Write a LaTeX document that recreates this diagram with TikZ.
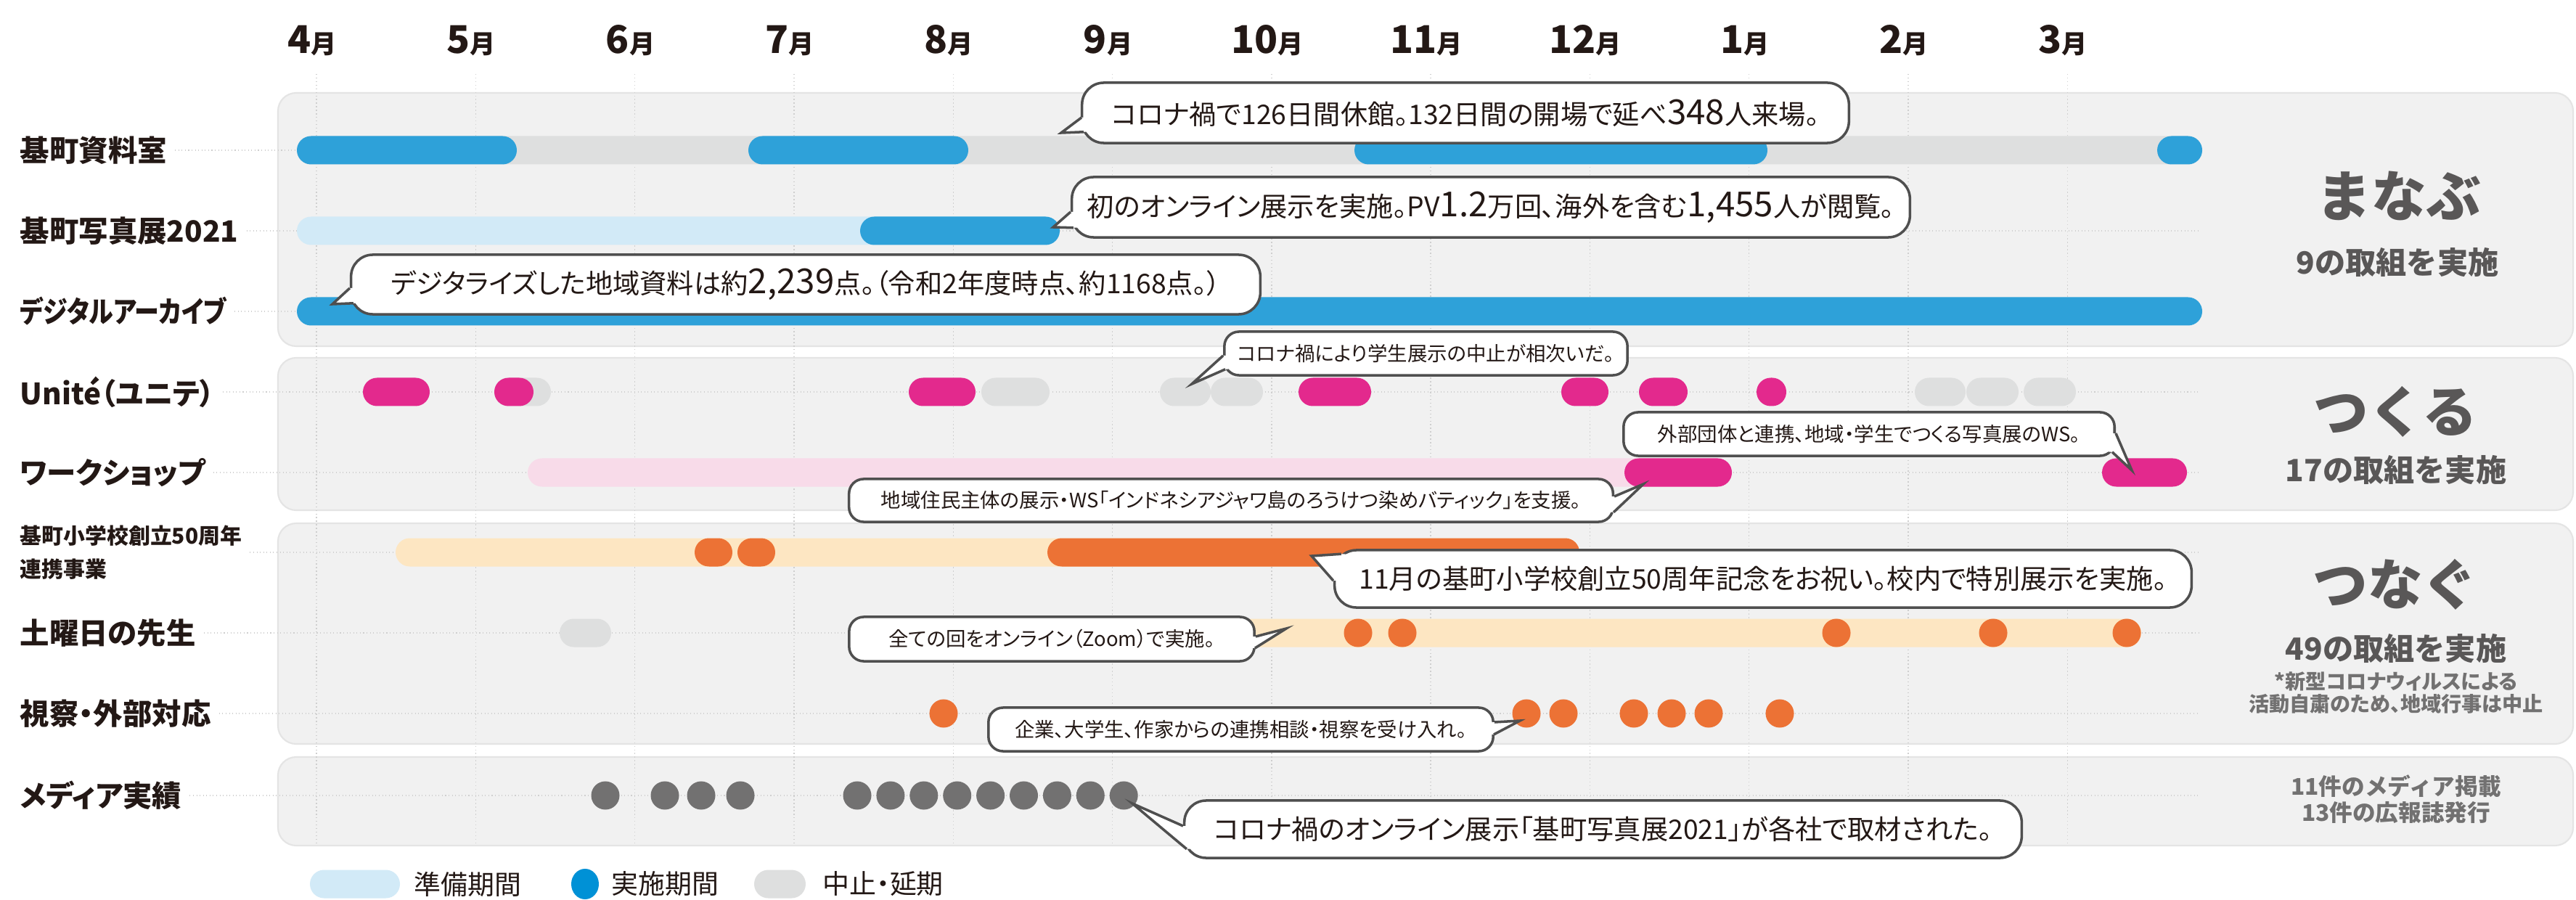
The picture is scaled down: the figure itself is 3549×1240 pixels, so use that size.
\documentclass[tikz,border=0pt]{standalone}
\usepackage{fontspec}
\usepackage{graphicx}
\setmainfont{Noto Sans CJK JP}
\newfontfamily\calljp{Noto Sans CJK JP}[RawFeature=+palt]
\usepackage{tikz}
\usetikzlibrary{calc}
\definecolor{inkdark}{HTML}{231815}
\definecolor{sumgrey}{HTML}{595757}
\definecolor{notegrey}{HTML}{727171}
\definecolor{bandfill}{HTML}{F1F1F1}
\definecolor{bandline}{HTML}{E4E4E4}
\definecolor{gridgrey}{HTML}{CFCFCF}
\definecolor{doblue}{HTML}{2EA1D9}
\definecolor{prepblue}{HTML}{D2EAF7}
\definecolor{stopgrey}{HTML}{DEDFDF}
\definecolor{makepink}{HTML}{E3298D}
\definecolor{prepink}{HTML}{F8DBE9}
\definecolor{linkorange}{HTML}{EC7235}
\definecolor{preorange}{HTML}{FDE6C2}
\definecolor{mediagrey}{HTML}{727171}
\definecolor{calloutline}{HTML}{4F4F4F}
\definecolor{legendblue}{HTML}{0091D6}

% capsule bar: colour, x from, x to, row y
\newcommand{\pill}[4]{\fill[#1, rounded corners=0.195cm] (#2,#4-19.5) rectangle (#3,#4+19.5);}
% round dot: colour, x, row y
\newcommand{\spot}[3]{\fill[#1] (#2,#3) circle[radius=0.195cm];}
\newcommand{\bignum}[1]{{\fontsize{13.5}{13.5}\selectfont #1}}
% callout pointer: node, base a, tip, base b
\newcommand{\calltail}[4]{%
  \fill[white] (#2) -- (#3) -- (#4) -- ($(#4)!4pt!(#1.center)$) -- ($(#2)!4pt!(#1.center)$) -- cycle;
  \draw[tailline] (#2) -- (#3) -- (#4);
}

\begin{document}
\begin{tikzpicture}[x=0.01cm, y=-0.01cm,
  band/.style={fill=bandfill, draw=bandline, line width=0.6pt, rounded corners=0.25cm},
  gridline/.style={gridgrey, line width=0.4pt, densely dotted},
  rowline/.style={gridgrey, line width=0.3pt, densely dotted},
  monthlabel/.style={inkdark, font=\bfseries, inner sep=0pt},
  rowlabel/.style={inkdark, anchor=west, inner sep=0pt, font=\calljp\fontsize{11.5}{11.5}\selectfont\bfseries},
  schoollabel/.style={inkdark, anchor=west, inner sep=0pt, align=left, font=\calljp\fontsize{8.5}{13}\selectfont\bfseries},
  callbig/.style={fill=white, draw=calloutline, line width=1pt, rounded corners=0.3cm, inner sep=0pt, text=inkdark, font=\calljp\fontsize{10.6}{10.6}\selectfont},
  callsmall/.style={fill=white, draw=calloutline, line width=1pt, rounded corners=0.2cm, inner sep=0pt, text=inkdark, font=\calljp\fontsize{7.8}{7.8}\selectfont},
  tailline/.style={calloutline, line width=1pt, line join=miter},
  sumbig/.style={sumgrey, font=\fontsize{21.5}{21.5}\selectfont\bfseries},
  sumsub/.style={sumgrey, font=\fontsize{12}{12}\selectfont\bfseries},
  sumnote/.style={notegrey, align=center, font=\calljp\fontsize{8}{8.8}\selectfont\bfseries},
  summedia/.style={notegrey, align=center, font=\fontsize{9}{10.2}\selectfont\bfseries},
  legendtext/.style={inkdark, anchor=west, inner sep=0pt, font=\calljp\fontsize{10.5}{10.5}\selectfont}]

  \useasboundingbox (0,0) rectangle (3549,1240);
  \clip (0,0) rectangle (3549,1240);
  \fill[white] (0,0) rectangle (3549,1240);

  % Section bands
  \foreach \top/\bot in {128/477, 493/703, 721/1025, 1043/1165}
    {\path[band] (383,\top) rectangle (3545,\bot);}

  % Month grid and labels
  \foreach \m [count=\k from 0] in {4,5,...,12,1,2,3} {
    \draw[gridline] ({436+219.3*\k},102) -- ({436+219.3*\k},1165);
    \node[monthlabel] (mon\m) at ({430+219.3*\k},56)
      {{\fontsize{15}{15}\selectfont\m}{\fontsize{10}{10}\selectfont 月}};
  }

  % Row labels
  \node[rowlabel] (lblA) at (27,207) {基町資料室};
  \node[rowlabel] (lblB) at (27,318) {基町写真展2021};
  \node[rowlabel] (lblC) at (27,429) {\scalebox{0.84}[1]{デジタルアーカイブ}};
  \node[rowlabel] (lblD) at (27,540) {Unité（ユニテ）};
  \node[rowlabel] (lblE) at (27,651) {ワークショップ};
  \node[schoollabel] (lblF) at (27,761) {基町小学校創立50周年\\連携事業};
  \node[rowlabel] (lblG) at (27,872) {土曜日の先生};
  \node[rowlabel] (lblH) at (27,983) {視察・外部対応};
  \node[rowlabel] (lblI) at (27,1096) {メディア実績};

  % Faint row guides
  \coordinate (lineend) at (3030,0);
  \foreach \r in {lblA,lblB,lblC,lblD,lblE,lblF,lblG,lblH,lblI}
    {\draw[rowline] ([xshift=3pt]\r.east) -- (\r.east -| lineend);}

  % Bars: 基町資料室
  \pill{stopgrey}{409}{3034}{207}
  \foreach \a/\b in {409/712, 1031/1334, 1866/2435, 2972/3034}
    {\pill{doblue}{\a}{\b}{207}}
  % 基町写真展2021
  \pill{prepblue}{409}{1460}{318}
  \pill{doblue}{1185}{1460}{318}
  % デジタルアーカイブ
  \pill{doblue}{409}{3034}{429}
  % Unite
  \foreach \a/\b in {681/759, 1352/1446, 1598/1668, 1668/1740, 2638/2708, 2709/2781, 2788/2860}
    {\pill{stopgrey}{\a}{\b}{540}}
  \foreach \a/\b in {500/592, 681/735, 1252/1344, 1789/1889, 2151/2216, 2258/2325, 2420/2461}
    {\pill{makepink}{\a}{\b}{540}}
  % ワークショップ
  \pill{prepink}{727}{2386}{651}
  \pill{makepink}{2238}{2386}{651}
  \pill{makepink}{2896}{3013}{651}
  % 小学校50周年
  \pill{preorange}{545}{2176}{761}
  \pill{linkorange}{957}{1009}{761}
  \pill{linkorange}{1016}{1068}{761}
  \pill{linkorange}{1443}{2176}{761}
  % 土曜日の先生
  \pill{stopgrey}{771}{842}{872}
  \pill{preorange}{1690}{2950}{872}
  \foreach \x in {1871, 1932, 2530, 2746, 2930}
    {\spot{linkorange}{\x}{872}}
  % 視察・外部対応
  \foreach \x in {1300, 2103, 2154, 2251, 2303, 2354, 2452}
    {\spot{linkorange}{\x}{983}}
  % メディア実績
  \foreach \x in {834, 916, 966, 1020}
    {\spot{mediagrey}{\x}{1096}}
  \foreach \k in {0,...,8}
    {\spot{mediagrey}{1181+45.9*\k}{1096}}

  % Callouts
  \node[callbig, minimum width=10.56cm, minimum height=0.83cm] (coronaA) at (2019,155.5)
    {コロナ禍で126日間休館。132日間の開場で延べ\bignum{348}人来場。};
  \coordinate (tipA) at (1462,183);
  \coordinate (aA) at ($(coronaA.west)+(1,6.5)$);
  \coordinate (bA) at ($(coronaA.south west)+(4,-17)$);
  \calltail{coronaA}{aA}{tipA}{bA}

  \node[callbig, minimum width=11.54cm, minimum height=0.83cm] (onlineB) at (2054,285.5)
    {初のオンライン展示を実施。PV\bignum{1.2}万回、海外を含む\bignum{1,455}人が閲覧。};
  \coordinate (tipB) at (1451,313);
  \coordinate (aB) at ($(onlineB.west)+(0,6.5)$);
  \coordinate (bB) at ($(onlineB.south west)+(4,-15)$);
  \calltail{onlineB}{aB}{tipB}{bB}

  \node[callbig, minimum width=12.52cm, minimum height=0.82cm] (digitC) at (1110,392)
    {デジタライズした地域資料は約\bignum{2,239}点。（令和2年度時点、約1168点。）};
  \coordinate (tipC) at (458,419);
  \coordinate (aC) at ($(digitC.west)+(0,5)$);
  \coordinate (bC) at ($(digitC.south west)+(5,-17)$);
  \calltail{digitC}{aC}{tipC}{bC}

  \node[callsmall, minimum width=5.55cm, minimum height=0.6cm] (uniteD) at (1964.5,487)
    {コロナ禍により学生展示の中止が相次いだ。};
  \coordinate (tipD) at (1642,529);
  \coordinate (aD) at ($(uniteD.west)+(0,3)$);
  \coordinate (bD) at ($(uniteD.south west)+(3,-10)$);
  \calltail{uniteD}{aD}{tipD}{bD}

  \node[callsmall, minimum width=6.76cm, minimum height=0.6cm] (wsE) at (2575,598)
    {外部団体と連携、地域・学生でつくる写真展のWS。};
  \coordinate (tipE) at (2937,648);
  \coordinate (aE) at ($(wsE.east)+(0,-1)$);
  \coordinate (bE) at ($(wsE.south east)+(-5,-7)$);
  \calltail{wsE}{aE}{tipE}{bE}

  \node[callsmall, minimum width=10.52cm, minimum height=0.59cm] (batikF) at (1696,689.5)
    {地域住民主体の展示・WS「インドネシアジャワ島のろうけつ染めバティック」を支援。};
  \coordinate (tipF) at (2264,667);
  \coordinate (aF) at ($(batikF.east)+(0,-5.5)$);
  \coordinate (bF) at ($(batikF.south east)+(-1,-15)$);
  \calltail{batikF}{aF}{tipF}{bF}

  \node[callbig, minimum width=11.8cm, minimum height=0.79cm] (schoolG) at (2429,797.5)
    {11月の基町小学校創立50周年記念をお祝い。校内で特別展示を実施。};
  \coordinate (tipG) at (1807,766);
  \coordinate (aG) at ($(schoolG.north west)+(11,7)$);
  \coordinate (bG) at ($(schoolG.west)+(0,2.5)$);
  \calltail{schoolG}{aG}{tipG}{bG}

  \node[callsmall, minimum width=5.58cm, minimum height=0.61cm] (zoomH) at (1449,880.5)
    {全ての回をオンライン（Zoom）で実施。};
  \coordinate (tipH) at (1772,866);
  \coordinate (aH) at ($(zoomH.east)+(0,-3.5)$);
  \coordinate (bH) at ($(zoomH.east)+(-1,12.5)$);
  \calltail{zoomH}{aH}{tipH}{bH}

  \node[callsmall, minimum width=6.95cm, minimum height=0.6cm] (visitI) at (1709.5,1005)
    {企業、大学生、作家からの連携相談・視察を受け入れ。};
  \coordinate (tipI) at (2094,993);
  \coordinate (aI) at ($(visitI.east)+(0,-10)$);
  \coordinate (bI) at ($(visitI.east)+(-1,7)$);
  \calltail{visitI}{aI}{tipI}{bI}

  \node[callbig, minimum width=11.53cm, minimum height=0.79cm] (mediaJ) at (2208.5,1142.5)
    {コロナ禍のオンライン展示「基町写真展2021」が各社で取材された。};
  \coordinate (tipJ) at (1560,1107);
  \coordinate (aJ) at ($(mediaJ.west)+(0,-4.5)$);
  \coordinate (bJ) at ($(mediaJ.south west)+(5,-14)$);
  \calltail{mediaJ}{aJ}{tipJ}{bJ}

  % Section summaries
  \node[sumbig] (manabu) at (3305,270) {まなぶ};
  \node[sumsub] (manabuN) at (3303,362) {9の取組を実施};
  \node[sumbig] (tsukuru) at (3300,567) {つくる};
  \node[sumsub] (tsukuruN) at (3301,648) {17の取組を実施};
  \node[sumbig] (tsunagu) at (3300,805) {つなぐ};
  \node[sumsub] (tsunaguN) at (3301,894) {49の取組を実施};
  \node[sumnote] (tsunaguNote) at (3301,955) {*新型コロナウィルスによる\\活動自粛のため、地域行事は中止};
  \node[summedia] (mediaN) at (3301,1101) {11件のメディア掲載\\13件の広報誌発行};

  % Legend
  \pill{prepblue}{427}{551}{1218}
  \node[legendtext] (lgPrep) at (570,1218) {準備期間};
  \fill[legendblue] (806,1218) ellipse[x radius=0.19cm, y radius=0.21cm];
  \node[legendtext] (lgDo) at (842,1218) {実施期間};
  \pill{stopgrey}{1039}{1110}{1218}
  \node[legendtext] (lgStop) at (1133,1218) {中止・延期};
\end{tikzpicture}
\end{document}
